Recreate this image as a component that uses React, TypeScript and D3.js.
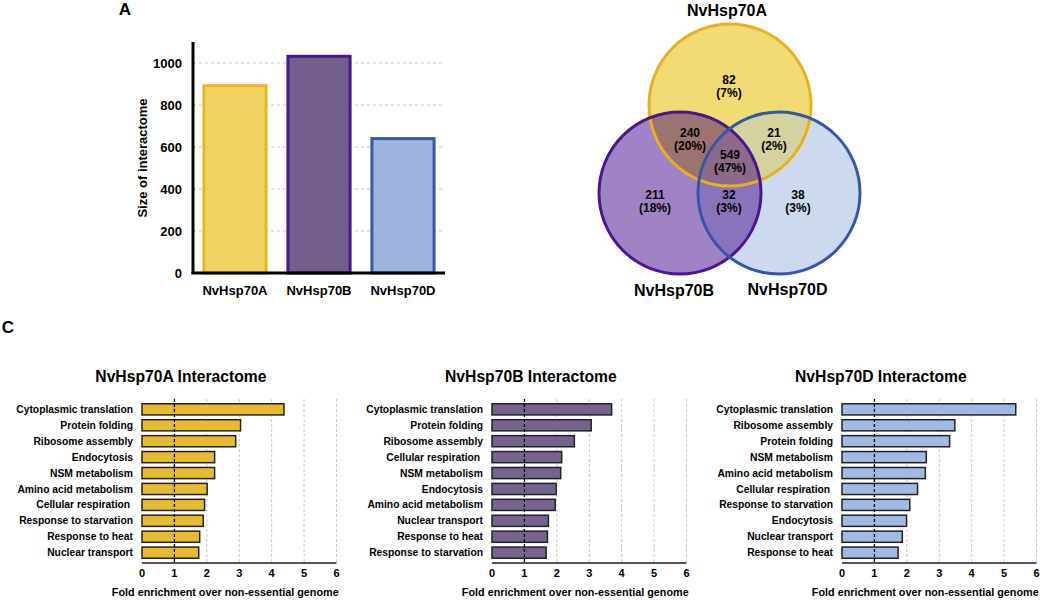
import React from 'react';
import * as d3 from 'd3';

// ---------- Panel A data ----------
const proteins = ['NvHsp70A', 'NvHsp70B', 'NvHsp70D'];
const interactomeSize = [892, 1032, 640];
const sizeTicks = [0, 200, 400, 600, 800, 1000];

// ---------- Panel B data (Venn) ----------
const vennSets = ['NvHsp70A', 'NvHsp70B', 'NvHsp70D'];
const vennRegions = ['A', 'B', 'D', 'AB', 'AD', 'BD', 'ABD'];
const vennCounts = [82, 211, 38, 240, 21, 32, 549];
const vennPercents = ['7%', '18%', '3%', '20%', '2%', '3%', '47%'];

// ---------- Panel C data ----------
const termsA = ['Cytoplasmic translation', 'Protein folding', 'Ribosome assembly', 'Endocytosis', 'NSM metabolism', 'Amino acid metabolism', 'Cellular respiration ', 'Response to starvation', 'Response to heat', 'Nuclear transport'];
const enrichA = [4.38, 3.04, 2.89, 2.24, 2.24, 2.01, 1.93, 1.89, 1.78, 1.75];
const termsB = ['Cytoplasmic translation', 'Protein folding', 'Ribosome assembly', 'Cellular respiration ', 'NSM metabolism', 'Endocytosis', 'Amino acid metabolism', 'Nuclear transport', 'Response to heat', 'Response to starvation'];
const enrichB = [3.69, 3.06, 2.54, 2.15, 2.12, 1.98, 1.95, 1.74, 1.71, 1.67];
const termsD = ['Cytoplasmic translation', 'Ribosome assembly', 'Protein folding', 'NSM metabolism', 'Amino acid metabolism', 'Cellular respiration ', 'Response to starvation', 'Endocytosis', 'Nuclear transport', 'Response to heat'];
const enrichD = [5.36, 3.48, 3.32, 2.60, 2.57, 2.33, 2.09, 1.99, 1.86, 1.73];
const enrichTicks = [0, 1, 2, 3, 4, 5, 6];

const FONT = '"Liberation Sans", Arial, Helvetica, sans-serif';

const barFill = ['#F0D363', '#735F8D', '#9DB4DF'];
const barStroke = ['#E8B422', '#4A168C', '#3857A8'];

function PanelA() {
  const x = d3.scaleBand<string>().domain(proteins).range([193, 445]).paddingInner(0.26).paddingOuter(0.13);
  const y = d3.scaleLinear().domain([0, 1100]).range([273, 42]);
  return (
    <g>
      <text x={125} y={15} textAnchor="middle" fontSize={17} fontWeight="bold">A</text>
      {sizeTicks.filter((t) => t > 0).map((t) => (
        <line key={'g' + t} x1={193} x2={445} y1={y(t)} y2={y(t)} stroke="#c4c4c4" strokeDasharray="3,3" />
      ))}
      {proteins.map((p, i) => (
        <rect key={p} x={x(p)!} y={y(interactomeSize[i])} width={x.bandwidth()} height={y(0) - y(interactomeSize[i])}
          fill={barFill[i]} stroke={barStroke[i]} strokeWidth={3} />
      ))}
      <line x1={193} x2={193} y1={42} y2={274} stroke="#000" strokeWidth={3} />
      <line x1={191.5} x2={445} y1={273} y2={273} stroke="#000" strokeWidth={3} />
      {sizeTicks.map((t) => (
        <text key={t} x={182} y={y(t)} dy="0.35em" textAnchor="end" fontSize={13} fontWeight="bold">{t}</text>
      ))}
      {proteins.map((p) => (
        <text key={p} x={x(p)! + x.bandwidth() / 2} y={295} textAnchor="middle" fontSize={13} fontWeight="bold">{p}</text>
      ))}
      <text transform="translate(147,158) rotate(-90)" textAnchor="middle" fontSize={13} fontWeight="bold">Size of interactome</text>
    </g>
  );
}

function PanelB() {
  const r = 81;
  const cA = [730, 105];
  const cB = [680, 193];
  const cD = [779, 193];
  const regionFill: Record<string, string> = {
    A: '#F2DB74', B: '#A083C4', D: '#CCD9EE', AB: '#9C7370', AD: '#D4D29E', BD: '#8A73BD', ABD: '#8C6A8A',
  };
  const labelPos: Record<string, [number, number]> = {
    A: [729, 80], AB: [690, 133], AD: [774, 133], ABD: [730, 155], B: [655, 195], BD: [729, 195], D: [798, 195],
  };
  return (
    <g>
      <defs>
        <clipPath id="clipA"><circle cx={cA[0]} cy={cA[1]} r={r} /></clipPath>
        <clipPath id="clipB"><circle cx={cB[0]} cy={cB[1]} r={r} /></clipPath>
      </defs>
      <circle cx={cA[0]} cy={cA[1]} r={r} fill={regionFill.A} />
      <circle cx={cB[0]} cy={cB[1]} r={r} fill={regionFill.B} />
      <circle cx={cD[0]} cy={cD[1]} r={r} fill={regionFill.D} />
      <circle cx={cB[0]} cy={cB[1]} r={r} fill={regionFill.AB} clipPath="url(#clipA)" />
      <circle cx={cD[0]} cy={cD[1]} r={r} fill={regionFill.AD} clipPath="url(#clipA)" />
      <circle cx={cD[0]} cy={cD[1]} r={r} fill={regionFill.BD} clipPath="url(#clipB)" />
      <g clipPath="url(#clipA)">
        <circle cx={cD[0]} cy={cD[1]} r={r} fill={regionFill.ABD} clipPath="url(#clipB)" />
      </g>
      <circle cx={cA[0]} cy={cA[1]} r={r} fill="none" stroke="#E8B01E" strokeWidth={3} />
      <circle cx={cB[0]} cy={cB[1]} r={r} fill="none" stroke="#4A1590" strokeWidth={3} />
      <circle cx={cD[0]} cy={cD[1]} r={r} fill="none" stroke="#3556A8" strokeWidth={3} />
      {vennRegions.map((reg, i) => (
        <text key={reg} x={labelPos[reg][0]} y={labelPos[reg][1]} textAnchor="middle" fontSize={12} fontWeight="bold">
          <tspan x={labelPos[reg][0]} dy="0.35em">{vennCounts[i]}</tspan>
          <tspan x={labelPos[reg][0]} dy="13">({vennPercents[i]})</tspan>
        </text>
      ))}
      <text x={727} y={15.5} textAnchor="middle" fontSize={16} fontWeight="bold">{vennSets[0]}</text>
      <text x={674} y={296} textAnchor="middle" fontSize={16} fontWeight="bold">{vennSets[1]}</text>
      <text x={787.5} y={295} textAnchor="middle" fontSize={16} fontWeight="bold">{vennSets[2]}</text>
    </g>
  );
}

function Enrichment({ x0, title, terms, values, fill }: { x0: number; title: string; terms: string[]; values: number[]; fill: string }) {
  const x = d3.scaleLinear().domain([0, 6]).range([x0, x0 + 194.5]);
  const y = d3.scaleBand<string>().domain(terms).range([399, 563]).padding(0.3);
  return (
    <g>
      <text x={x(1.2)} y={382} textAnchor="middle" fontSize={15.7} fontWeight="bold">{title}</text>
      {enrichTicks.filter((t) => t >= 2).map((t) => (
        <line key={'g' + t} x1={x(t)} x2={x(t)} y1={399} y2={563} stroke="#c8c8c8" strokeDasharray="3,2" />
      ))}
      {terms.map((t, i) => (
        <rect key={t} x={x(0)} y={y(t)!} width={x(values[i]) - x(0)} height={y.bandwidth()} fill={fill} stroke="#222" strokeWidth={1.5} />
      ))}
      <line x1={x(1)} x2={x(1)} y1={399} y2={563} stroke="#000" strokeWidth={1.3} strokeDasharray="3,2" />
      <line x1={x(0)} x2={x(6)} y1={563} y2={563} stroke="#555" strokeWidth={2} />
      {enrichTicks.map((t) => (
        <text key={t} x={x(t)} y={577} textAnchor="middle" fontSize={11} fontWeight="bold">{t}</text>
      ))}
      {terms.map((t) => (
        <text key={'l' + t} x={x0 - 9} y={y(t)! + y.bandwidth() / 2} dy="0.35em" textAnchor="end" fontSize={10.3} fontWeight="bold" style={{ whiteSpace: 'pre' }}>{t}</text>
      ))}
      <text x={x(3) - 14} y={596} textAnchor="middle" fontSize={10.8} fontWeight="bold">Fold enrichment over non-essential genome</text>
    </g>
  );
}

export default function App() {
  return (
    <svg width={1050} height={600} style={{ position: 'absolute', left: 0, top: 0, background: '#fff' }} fontFamily={FONT}>
      <rect width={1050} height={600} fill="#fff" />
      <PanelA />
      <PanelB />
      <text x={8} y={333} textAnchor="middle" fontSize={17} fontWeight="bold">C</text>
      <Enrichment x0={142} title="NvHsp70A Interactome" terms={termsA} values={enrichA} fill="#E8BB2E" />
      <Enrichment x0={492} title="NvHsp70B Interactome" terms={termsB} values={enrichB} fill="#76648F" />
      <Enrichment x0={842} title="NvHsp70D Interactome" terms={termsD} values={enrichD} fill="#A0B9E5" />
    </svg>
  );
}
